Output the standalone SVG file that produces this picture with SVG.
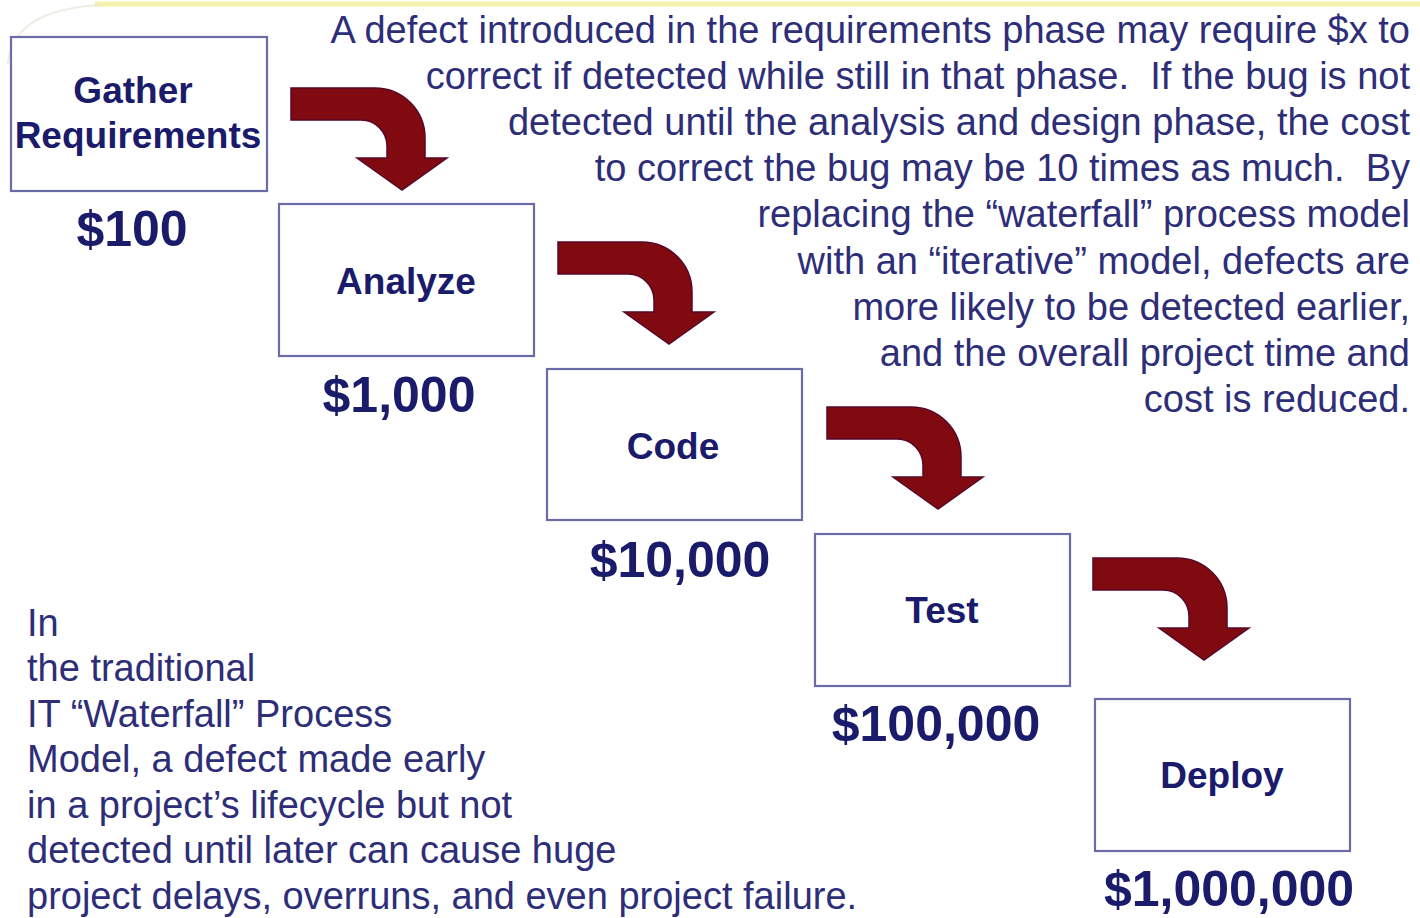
<svg xmlns="http://www.w3.org/2000/svg" width="1420" height="918" viewBox="0 0 1420 918">
<style>
.box{fill:#ffffff;stroke:#6b6ba8;stroke-width:2.2}
.lbl{font-family:"Liberation Sans",Arial,sans-serif;font-weight:bold;font-size:37px;fill:#1b1b6b;text-anchor:middle}
.cost{font-family:"Liberation Sans",Arial,sans-serif;font-weight:bold;font-size:50px;fill:#1b1b6b;text-anchor:middle}
.para{font-family:"Liberation Sans",Arial,sans-serif;font-size:38px;fill:#2e2e78}
.arrow{fill:#800a10;stroke:#55082a;stroke-width:1.5;stroke-linejoin:miter}
</style>
<defs>
<path id="bent" d="M0,0 H84 A50,50 0 0 1 134,50 V70 H156 L111,102 L66,70 H96 V58 A26,26 0 0 0 70,32 H0 Z"/>
</defs>
<rect width="1420" height="918" fill="#ffffff"/>
<path d="M95,4 H1420" fill="none" stroke="#f4ef9a" stroke-width="5" opacity="0.8"/>
<path d="M8,64 Q12,10 100,5" fill="none" stroke="#e6e6d8" stroke-width="2" opacity="0.7"/>

<g id="connectors">
<use href="#bent" class="arrow" transform="translate(291,88)"/>
<use href="#bent" class="arrow" transform="translate(558,242)"/>
<use href="#bent" class="arrow" transform="translate(827,407)"/>
<use href="#bent" class="arrow" transform="translate(1093,558)"/>
</g>

<g id="gather">
<rect class="box" x="11" y="37" width="256" height="154"/>
<text class="lbl" x="133" y="103">Gather</text>
<text class="lbl" x="138" y="148">Requirements</text>
<text class="cost" x="132" y="246">$100</text>
</g>
<g id="analyze">
<rect class="box" x="279" y="204" width="255" height="152"/>
<text class="lbl" x="406" y="294">Analyze</text>
<text class="cost" x="399" y="412">$1,000</text>
</g>
<g id="code">
<rect class="box" x="547" y="369" width="255" height="151"/>
<text class="lbl" x="673" y="459">Code</text>
<text class="cost" x="680" y="577">$10,000</text>
</g>
<g id="test">
<rect class="box" x="815" y="534" width="255" height="152"/>
<text class="lbl" x="942" y="623">Test</text>
<text class="cost" x="936" y="741">$100,000</text>
</g>
<g id="deploy">
<rect class="box" x="1095" y="699" width="255" height="152"/>
<text class="lbl" x="1222" y="788">Deploy</text>
<text class="cost" x="1229" y="906">$1,000,000</text>
</g>

<g id="note-right" class="para" text-anchor="end">
<text x="1410" y="43">A defect introduced in the requirements phase may require $x to</text>
<text x="1410" y="89">correct if detected while still in that phase.&#160; If the bug is not</text>
<text x="1410" y="135">detected until the analysis and design phase, the cost</text>
<text x="1410" y="181">to correct the bug may be 10 times as much.&#160; By</text>
<text x="1410" y="227">replacing the “waterfall” process model</text>
<text x="1410" y="274">with an “iterative” model, defects are</text>
<text x="1410" y="320">more likely to be detected earlier,</text>
<text x="1410" y="366">and the overall project time and</text>
<text x="1410" y="412">cost is reduced.</text>
</g>

<g id="note-left" class="para">
<text x="27" y="636">In</text>
<text x="27" y="681">the traditional</text>
<text x="27" y="727">IT “Waterfall” Process</text>
<text x="27" y="772">Model, a defect made early</text>
<text x="27" y="818">in a project’s lifecycle but not</text>
<text x="27" y="863">detected until later can cause huge</text>
<text x="27" y="909">project delays, overruns, and even project failure.</text>
</g>
</svg>
